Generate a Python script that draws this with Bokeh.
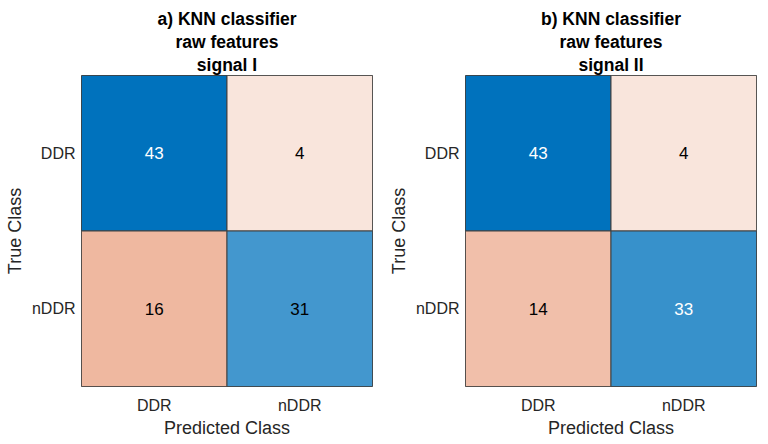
from bokeh.plotting import figure
from bokeh.models import FactorRange, ColumnDataSource, Title
from bokeh.layouts import row
from bokeh.embed import file_html
from bokeh.resources import INLINE
from bokeh.core.properties import value

classes = ["DDR", "nDDR"]
true_cls = ["DDR", "DDR", "nDDR", "nDDR"]
pred_cls = ["DDR", "nDDR", "DDR", "nDDR"]
counts_a = [43, 4, 16, 31]
counts_b = [43, 4, 14, 33]
titles_a = ["a) KNN classifier", "raw features", "signal I"]
titles_b = ["b) KNN classifier", "raw features", "signal II"]

FONT = "Liberation Sans"
DIAG = (0, 114, 189)
OFF = (217, 83, 25)


def cell_color(v, vmax, diag):
    base = DIAG if diag else OFF
    r = (v + 3) / (vmax + 3)
    c = [round(255 * (1 - r) + b * r) for b in base]
    return "#%02x%02x%02x" % tuple(c)


def make(counts, title_lines):
    vmax = max(counts)
    colors = [cell_color(v, vmax, t == p) for v, t, p in zip(counts, true_cls, pred_cls)]
    tcolors = ["white" if v / vmax > 0.74 else "black" for v in counts]
    src = ColumnDataSource(dict(x=pred_cls, y=true_cls, v=[str(c) for c in counts],
                                c=colors, tc=tcolors))
    p = figure(x_range=FactorRange(*classes), y_range=FactorRange(*classes[::-1]),
               width=384, height=442, output_backend="svg",
               toolbar_location=None, title=None,
               min_border_left=81, min_border_right=12, min_border_top=75,
               min_border_bottom=56)
    p.rect(x="x", y="y", width=1, height=1, source=src, fill_color="c",
           line_color="#404040", line_width=1)
    p.text(x="x", y="y", text="v", source=src, text_color="tc", text_align="center",
           text_baseline="middle", text_font=value(FONT), text_font_size="17px")
    for line in reversed(title_lines):
        t = Title(text=line, align="center", text_font=FONT, text_font_size="17.5px",
                  text_font_style="bold", text_color="#000000", standoff=1, offset=0)
        p.add_layout(t, "above")
    p.xgrid.visible = False
    p.ygrid.visible = False
    p.outline_line_color = "#404040"
    for ax in (p.xaxis[0], p.yaxis[0]):
        ax.axis_line_color = None
        ax.major_tick_line_color = None
        ax.minor_tick_line_color = None
        ax.major_tick_out = 0
        ax.major_tick_in = 0
        ax.major_label_text_font = FONT
        ax.major_label_text_font_size = "16px"
        ax.major_label_text_color = "#262626"
        ax.axis_label_text_font = FONT
        ax.axis_label_text_font_size = "18px"
        ax.axis_label_text_font_style = "normal"
        ax.axis_label_text_color = "#262626"
    p.xaxis.major_label_standoff = 10
    p.xaxis.axis_label_standoff = 1
    p.yaxis.major_label_standoff = 6
    p.yaxis.axis_label_standoff = 4
    p.xaxis.axis_label = "Predicted Class"
    p.yaxis.axis_label = "True Class"
    p.yaxis.major_label_orientation = "horizontal"
    return p


p1 = make(counts_a, titles_a)
p2 = make(counts_b, titles_b)
layout = row(p1, p2)
open("out.html", "w").write(file_html(layout, INLINE))
